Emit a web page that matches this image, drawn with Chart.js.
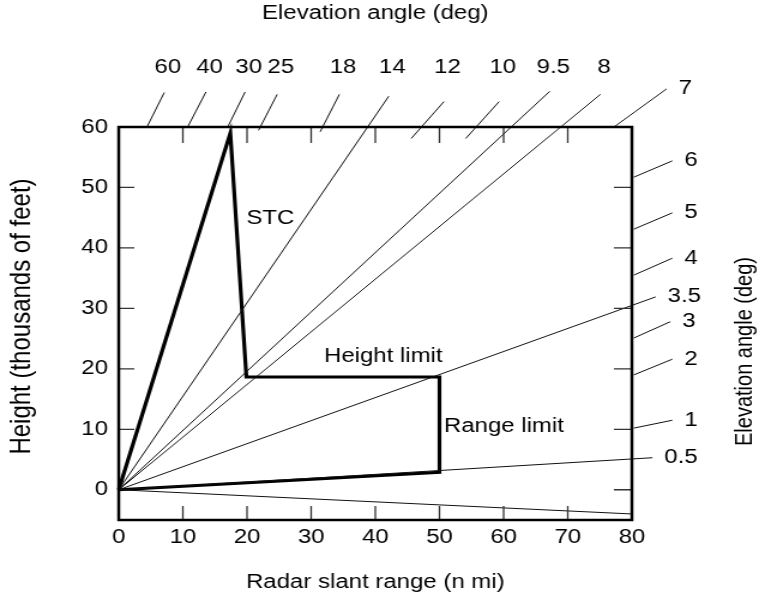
<!DOCTYPE html>
<html>
<head>
<meta charset="utf-8">
<script src="https://cdn.jsdelivr.net/npm/chart.js@4.4.1/dist/chart.umd.min.js"></script>
<style>
  html, body { margin: 0; padding: 0; background: #fff; overflow: hidden; }
  /* the original figure is drawn a little wide, so stretch the whole canvas sideways */
  #wrap { width: 633px; height: 601px; transform: scaleX(1.19905); transform-origin: 0 0; }
</style>
</head>
<body>
<div id="wrap"><canvas id="coverage-canvas"></canvas></div>
<script>
// axis ticks
const rangeTicks = [0, 10, 20, 30, 40, 50, 60, 70, 80];
const heightTicks = [0, 10, 20, 30, 40, 50, 60];

// coverage outline (slant range n mi, height thousands of ft)
const coverRange = [0, 17.4, 19.9, 50, 50, 0];
const coverHeight = [0, 59, 18.65, 18.65, 2.9, 0];

// elevation beams drawn all the way out from the radar
const rayAngles = ['14', '9.5', '8', '3.5', '0.5', ''];
const rayEndRange = [42.1, 67.2, 75.1, 83.7, 83.2, 80];
const rayEndHeight = [65.1, 65.9, 65.4, 31.9, 5.3, -4.0];

// short elevation marks across the frame
const markAngles = ['60', '40', '30', '25', '18', '12', '10', '7', '6', '5', '4', '3', '2', '1'];
const markInRange = [4.4, 10.75, 17.0, 21.8, 31.4, 45.6, 54.1, 77.2, 80.3, 80.3, 80.3, 80.3, 80.3, 80.3];
const markInHeight = [60, 60, 60, 59.45, 59.2, 58.1, 58.1, 60, 51.7, 43.1, 35.5, 25.1, 19.0, 10.2];
const markOutRange = [7.1, 13.6, 19.7, 24.7, 34.4, 50.7, 59.3, 85.4, 86.3, 86.3, 86.3, 86.0, 86.3, 86.3];
const markOutHeight = [65.7, 65.8, 65.8, 65.4, 65.4, 64.2, 64.2, 66.3, 54.4, 45.8, 38.3, 27.8, 21.6, 11.5];

// text notes inside the plot
const noteText = ['STC', 'Height limit', 'Range limit'];
const noteRange = [19.9, 32.0, 50.7];
const noteHeight = [44.9, 22.0, 10.4];

const FONT = "'Liberation Sans', Arial, Helvetica, sans-serif";
Chart.defaults.font.family = FONT;
Chart.defaults.font.size = 20;
Chart.defaults.color = '#000';

const thinLine = { borderColor: '#111', borderWidth: 1, pointRadius: 0, clip: false, fill: false, tension: 0 };

const datasets = [];
rayAngles.forEach((a, i) => {
    datasets.push({ ...thinLine, label: a, outer: { x: rayEndRange[i], y: rayEndHeight[i] },
        data: [{ x: 0, y: 0 }, { x: rayEndRange[i], y: rayEndHeight[i] }] });
});
markAngles.forEach((a, i) => {
    datasets.push({ ...thinLine, label: a, outer: { x: markOutRange[i], y: markOutHeight[i] },
        data: [{ x: markInRange[i], y: markInHeight[i] }, { x: markOutRange[i], y: markOutHeight[i] }] });
});
datasets.push({
    label: 'coverage',
    data: coverRange.map((x, i) => ({ x: x, y: coverHeight[i] })),
    borderColor: '#000',
    borderWidth: 3.2,
    pointRadius: 0,
    clip: false,
    fill: false
});

// frame, inward ticks, angle labels, notes and the two side titles
const decorPlugin = {
    id: 'decor',
    afterDatasetsDraw(chart) {
        const ctx = chart.ctx;
        const a = chart.chartArea;
        const xs = chart.scales.x, ys = chart.scales.y;
        ctx.save();

        // inward ticks
        ctx.strokeStyle = '#333';
        ctx.lineWidth = 1.3;
        ctx.beginPath();
        rangeTicks.slice(1, -1).forEach(v => {
            const px = xs.getPixelForValue(v);
            ctx.moveTo(px, a.bottom); ctx.lineTo(px, a.bottom - 14);
            ctx.moveTo(px, a.top); ctx.lineTo(px, a.top + 16);
        });
        heightTicks.slice(0, -1).forEach(v => {
            const py = ys.getPixelForValue(v);
            if (v > 0) { ctx.moveTo(a.left, py); ctx.lineTo(a.left + 13, py); }
            ctx.moveTo(a.right, py); ctx.lineTo(a.right - 15, py);
        });
        ctx.stroke();

        // frame
        ctx.strokeStyle = '#000';
        ctx.lineWidth = 2.5;
        ctx.strokeRect(a.left, a.top, a.right - a.left, a.bottom - a.top);

        // angle labels
        ctx.fillStyle = '#000';
        ctx.font = '20px ' + FONT;
        ctx.textBaseline = 'middle';
        chart.data.datasets.forEach(ds => {
            if (!ds.outer || !ds.label) return;
            const px = xs.getPixelForValue(ds.outer.x);
            const py = ys.getPixelForValue(ds.outer.y);
            if (ds.outer.x > 80) {
                ctx.textAlign = 'left';
                ctx.fillText(ds.label, px + 10, py);
            } else {
                ctx.textAlign = 'center';
                ctx.fillText(ds.label, px + 3, a.top - 60);
            }
        });

        // notes
        ctx.textAlign = 'left';
        noteText.forEach((t, i) => {
            ctx.fillText(t, xs.getPixelForValue(noteRange[i]), ys.getPixelForValue(noteHeight[i]));
        });

        // side titles, both reading upward
        const midY = (a.top + a.bottom) / 2;
        ctx.textAlign = 'center';
        ctx.save();
        ctx.translate(621, midY + 28);
        ctx.rotate(-Math.PI / 2);
        ctx.fillText('Elevation angle (deg)', 0, 0);
        ctx.restore();

        ctx.font = '24px ' + FONT;
        ctx.translate(18.5, midY - 7);
        ctx.rotate(-Math.PI / 2);
        ctx.fillText('Height (thousands of feet)', 0, 0);
        ctx.restore();
    }
};

const noGrid = { display: false };
const noBorder = { display: false };

new Chart(document.getElementById('coverage-canvas'), {
    type: 'line',
    data: { datasets: datasets },
    options: {
        responsive: true,
        maintainAspectRatio: false,
        animation: false,
        layout: { padding: 0 },
        plugins: { legend: { display: false }, tooltip: { enabled: false } },
        scales: {
            x: {
                type: 'linear', position: 'bottom', min: 0, max: 80,
                afterBuildTicks: s => { s.ticks = rangeTicks.map(v => ({ value: v })); },
                afterFit: s => { s.height = 81; },
                ticks: { padding: 5, maxRotation: 0 },
                grid: { ...noGrid, drawTicks: false }, border: noBorder,
                title: { display: true, text: 'Radar slant range (n mi)', padding: { bottom: 7 } }
            },
            x2: {
                type: 'linear', position: 'top', min: 0, max: 80,
                afterFit: s => { s.height = 127; },
                ticks: { display: false },
                grid: noGrid, border: noBorder,
                title: { display: true, text: 'Elevation angle (deg)', padding: { top: 1 } }
            },
            y: {
                type: 'linear', position: 'left', min: -5, max: 60,
                afterBuildTicks: s => { s.ticks = heightTicks.map(v => ({ value: v })); },
                afterFit: s => { s.width = 99; },
                ticks: { padding: 9 },
                grid: { ...noGrid, drawTicks: false }, border: noBorder
            },
            y2: {
                type: 'linear', position: 'right', min: -5, max: 60,
                afterFit: s => { s.width = 106; },
                ticks: { display: false },
                grid: noGrid, border: noBorder
            }
        }
    },
    plugins: [decorPlugin]
});
</script>
</body>
</html>
